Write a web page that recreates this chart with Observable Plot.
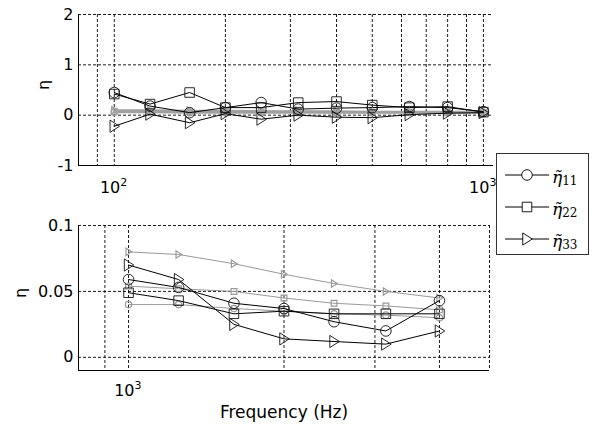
<!DOCTYPE html>
<html>
<head>
<meta charset="utf-8">
<script src="https://cdn.jsdelivr.net/npm/d3@7"></script>
<script src="https://cdn.jsdelivr.net/npm/@observablehq/plot@0.6"></script>
<style>
  body { margin: 0; background: #fff; }
  #fig { position: relative; width: 593px; height: 426px; overflow: hidden; background: #fff; }
  #top, #bot { position: absolute; left: 0; }
  #top { top: 0; }
  #bot { top: 200px; }
  #legend { position: absolute; left: 496px; top: 153px; width: 91px; height: 100px;
            border: 1px solid #333; background: #fff; }
  #legend svg { display: block; }
</style>
</head>
<body>
<div id="fig">
  <div id="top"></div>
  <div id="bot"></div>
  <div id="legend"></div>
</div>
<script>
// Third-octave band centres, low range (Hz)
const freqLow = [100, 125, 160, 200, 250, 315, 400, 500, 630, 800, 1000];
// Measured loss factors, low range
const eta11Low = [0.45, 0.18, 0.05, 0.15, 0.25, 0.12, 0.14, 0.15, 0.17, 0.15, 0.07];
const eta22Low = [0.42, 0.22, 0.45, 0.15, 0.15, 0.25, 0.27, 0.20, 0.15, 0.17, 0.06];
const eta33Low = [-0.22, 0.02, -0.15, 0.03, -0.08, 0.00, -0.04, -0.05, 0.01, 0.04, 0.05];
// Reference curves (grey), low range
const ref11Low = [0.06, 0.06, 0.05, 0.05, 0.05, 0.05, 0.05, 0.05, 0.05, 0.05, 0.05];
const ref22Low = [0.08, 0.08, 0.07, 0.07, 0.07, 0.07, 0.06, 0.06, 0.06, 0.06, 0.06];
const ref33Low = [0.10, 0.10, 0.09, 0.09, 0.08, 0.08, 0.08, 0.07, 0.07, 0.07, 0.07];

// Third-octave band centres, high range (Hz)
const freqHigh = [1000, 1250, 1600, 2000, 2500, 3150, 4000];
const eta11High = [0.059, 0.053, 0.041, 0.037, 0.027, 0.020, 0.043];
const eta22High = [0.049, 0.043, 0.033, 0.035, 0.033, 0.033, 0.033];
const eta33High = [0.070, 0.059, 0.025, 0.014, 0.012, 0.010, 0.020];
const ref11High = [0.040, 0.040, 0.037, 0.035, 0.033, 0.032, 0.030];
const ref22High = [0.054, 0.052, 0.050, 0.045, 0.041, 0.039, 0.036];
const ref33High = [0.080, 0.078, 0.071, 0.063, 0.056, 0.050, 0.045];

// Axis ticks
const yTicksLow = [-1, 0, 1, 2];
const yTicksHigh = [0, 0.05, 0.1];
const decadesLow = [100, 1000];
const decadesHigh = [1000];
const legendNames = ["11", "22", "33"];

// Marker shapes: open square and right-pointing triangle
const squareSym = {
  draw(ctx, size) {
    const s = Math.sqrt(size / Math.PI) * 0.9;
    ctx.moveTo(-s, -s); ctx.lineTo(s, -s); ctx.lineTo(s, s); ctx.lineTo(-s, s); ctx.closePath();
  }
};
const triRightSym = {
  draw(ctx, size) {
    const r = Math.sqrt(size / Math.PI);
    ctx.moveTo(r, 0); ctx.lineTo(-r * 0.8, -r * 1.15); ctx.lineTo(-r * 0.8, r * 1.15); ctx.closePath();
  }
};
const symbols = ["circle", squareSym, triRightSym];

const rows = (freqs, values) => freqs.map((f, i) => ({f, v: values[i]}));

const dash = {stroke: "#000", strokeWidth: 0.9, strokeDasharray: "3,2"};
const font = "DejaVu Sans, sans-serif";

function panel(o) {
  const marks = [
    Plot.ruleX(o.xGrid, {...dash}),
    Plot.ruleY(o.yGrid, {...dash}),
    Plot.ruleX([o.xDomain[0]], {stroke: "#000", strokeWidth: 1}),
    Plot.ruleY([o.yDomain[0]], {stroke: "#000", strokeWidth: 1})
  ];
  o.ref.forEach((vals, k) => {
    const d = rows(o.freqs, vals);
    marks.push(Plot.line(d, {x: "f", y: "v", stroke: o.refColor, strokeWidth: o.refWidth}));
    marks.push(Plot.dot(d, {x: "f", y: "v", symbol: symbols[k], r: 3.2, stroke: o.refColor, fill: "none", strokeWidth: 1.2}));
  });
  o.meas.forEach((vals, k) => {
    const d = rows(o.freqs, vals);
    marks.push(Plot.line(d, {x: "f", y: "v", stroke: "#000", strokeWidth: 1}));
    marks.push(Plot.dot(d, {x: "f", y: "v", symbol: symbols[k], r: 5.3, stroke: "#111", fill: "none", strokeWidth: 0.9}));
  });
  // y tick labels
  marks.push(Plot.text(o.yTicks, {y: d => d, frameAnchor: "left", text: d => String(d), textAnchor: "end", dx: -5, lineAnchor: "middle", fontSize: 16}));
  // x decade labels: base and exponent
  marks.push(Plot.text(o.decades, {x: d => d, frameAnchor: "bottom", text: () => "10", textAnchor: "end", dx: 6, dy: o.baseDy, lineAnchor: "bottom", fontSize: 16}));
  marks.push(Plot.text(o.decades, {x: d => d, frameAnchor: "bottom", text: d => String(Math.round(Math.log10(d))), textAnchor: "start", dx: 6, dy: o.baseDy - 7, lineAnchor: "bottom", fontSize: 11}));
  // y label
  marks.push(Plot.text(["η"], {frameAnchor: "left", text: d => d, rotate: -90, dx: o.yLabelDx, fontSize: 16}));
  if (o.xLabel) {
    marks.push(Plot.text([o.xLabel], {frameAnchor: "bottom", text: d => d, dy: 47, lineAnchor: "bottom", fontSize: 17}));
  }
  return Plot.plot({
    width: 593,
    height: o.height,
    marginLeft: 78,
    marginRight: o.marginRight,
    marginTop: o.marginTop,
    marginBottom: o.marginBottom,
    style: {fontFamily: font, background: "transparent", color: "#000"},
    x: {type: "log", domain: o.xDomain, axis: null},
    y: {domain: o.yDomain, axis: null},
    marks
  });
}

document.getElementById("top").append(panel({
  height: 200, marginTop: 14, marginBottom: 35, marginRight: 100,
  freqs: freqLow, xDomain: [80, 1065], yDomain: [-1, 2],
  xGrid: [90, 100, 200, 300, 400, 500, 600, 700, 800, 900, 1000], yGrid: [0, 1, 2],
  yTicks: yTicksLow, decades: decadesLow, baseDy: 27, yLabelDx: -35,
  meas: [eta11Low, eta22Low, eta33Low], ref: [ref11Low, ref22Low, ref33Low],
  refColor: "#a0a0a0", refWidth: 2
}));

document.getElementById("bot").append(panel({
  height: 226, marginTop: 25, marginBottom: 56, marginRight: 104,
  freqs: freqHigh, xDomain: [800, 5000], yDomain: [-0.01, 0.1],
  xGrid: [900, 1000, 2000, 3000, 4000, 5000], yGrid: [0, 0.05, 0.1],
  yTicks: yTicksHigh, decades: decadesHigh, baseDy: 25, yLabelDx: -58,
  meas: [eta11High, eta22High, eta33High], ref: [ref11High, ref22High, ref33High],
  refColor: "#999", refWidth: 1, xLabel: "Frequency (Hz)"
}));

// Legend: line sample with marker, then the symbol name (eta with tilde, subscript index)
const leg = d3.select("#legend").append("svg").attr("width", 91).attr("height", 100);
const legendY = [21, 53, 85];
legendNames.forEach((name, k) => {
  const y = legendY[k];
  leg.append("line").attr("x1", 8).attr("x2", 52).attr("y1", y).attr("y2", y).attr("stroke", "#000").attr("stroke-width", 1);
  const sym = typeof symbols[k] === "string" ? d3.symbolCircle : symbols[k];
  leg.append("path").attr("d", d3.symbol(sym, 5.3 * 5.3 * Math.PI)()).attr("transform", `translate(30,${y})`)
    .attr("fill", "#fff").attr("stroke", "#000").attr("stroke-width", 0.9);
  const t = leg.append("text").attr("x", 55).attr("y", y + 8)
    .attr("font-family", "DejaVu Serif, serif").attr("font-size", 17);
  t.append("tspan").attr("font-style", "italic").text("η\u0303");
  t.append("tspan").attr("font-size", 12).attr("dy", 2).text(name);
});
</script>
</body>
</html>
